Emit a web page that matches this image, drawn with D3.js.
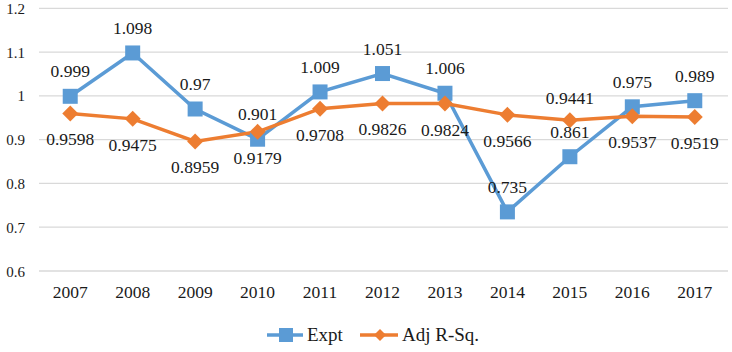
<!DOCTYPE html>
<html>
<head>
<meta charset="utf-8">
<script src="https://cdn.jsdelivr.net/npm/d3@7"></script>
</head>
<body style="margin:0">
<div id="chart"></div>
<script>
// Data
const years = ['2007', '2008', '2009', '2010', '2011', '2012', '2013', '2014', '2015', '2016', '2017']
const expt = [0.999, 1.098, 0.97, 0.901, 1.009, 1.051, 1.006, 0.735, 0.861, 0.975, 0.989]
const adjR = [0.9598, 0.9475, 0.8959, 0.9179, 0.9708, 0.9826, 0.9824, 0.9566, 0.9441, 0.9537, 0.9519]
const exptLabels = ['0.999', '1.098', '0.97', '0.901', '1.009', '1.051', '1.006', '0.735', '0.861', '0.975', '0.989']
const adjLabels = ['0.9598', '0.9475', '0.8959', '0.9179', '0.9708', '0.9826', '0.9824', '0.9566', '0.9441', '0.9537', '0.9519']
const adjAbove = [false, false, false, false, false, false, false, false, true, false, false]
const yTicks = [0.6, 0.7, 0.8, 0.9, 1, 1.1, 1.2]
const seriesNames = ['Expt', 'Adj R-Sq.']

const width = 732, height = 352
const plot = { left: 39, right: 726, top: 8.3, bottom: 271 }
const textColor = '#1a1a1a'

// serif text: drawn at 24px then scaled down to the wanted size
const baseSize = 24
const serif = (sel, size, tx, ty) => sel
  .style('font-family', '"Liberation Serif"')
  .attr('font-size', baseSize)
  .attr('fill', textColor)
  .attr('x', 0)
  .attr('y', 0)
  .attr('dy', 0)
  .attr('transform', (d, i) => `translate(${tx(d, i)},${ty(d, i)}) scale(${size / baseSize})`)

const svg = d3.select('#chart').append('svg')
  .attr('width', width)
  .attr('height', height)

const xScale = d3.scaleBand()
  .domain(years)
  .range([plot.left, plot.right])

const yScale = d3.scaleLinear()
  .domain([0.6, 1.2])
  .range([plot.bottom, plot.top])

// gridlines
svg.append('g')
  .selectAll('line')
  .data(yTicks)
  .join('line')
  .attr('x1', plot.left)
  .attr('x2', plot.right + 2)
  .attr('y1', d => yScale(d))
  .attr('y2', d => yScale(d))
  .attr('stroke', '#d9d9d9')
  .attr('stroke-width', 1.3)

// y axis labels
const yAxis = d3.axisLeft(yScale)
  .tickValues(yTicks)
  .tickSize(0)
  .tickFormat(d => String(+d.toFixed(1)))
const yAxisGroup = svg.append('g')
  .attr('transform', `translate(${plot.left},0)`)
  .call(yAxis)
yAxisGroup.attr('font-family', null).attr('font-size', null)
yAxisGroup.select('.domain').remove()
serif(yAxisGroup.selectAll('text'), 15, () => -14, () => 5)

// x axis labels
const xAxis = d3.axisBottom(xScale).tickSize(0)
const xAxisGroup = svg.append('g')
  .attr('transform', `translate(0,${plot.bottom})`)
  .call(xAxis)
xAxisGroup.attr('font-family', null).attr('font-size', null)
xAxisGroup.select('.domain').remove()
serif(xAxisGroup.selectAll('text'), 17.5, () => 0, () => 27)

const cx = (d, i) => xScale(years[i]) + xScale.bandwidth() / 2

const blue = '#5b9bd5', orange = '#ed7d31'

const lineGen = d3.line()
  .x((d, i) => cx(d, i))
  .y(d => yScale(d))

// Expt line
svg.append('path')
  .datum(expt)
  .attr('d', lineGen)
  .attr('fill', 'none')
  .attr('stroke', blue)
  .attr('stroke-width', 3.5)

// Adj R-Sq. line
svg.append('path')
  .datum(adjR)
  .attr('d', lineGen)
  .attr('fill', 'none')
  .attr('stroke', orange)
  .attr('stroke-width', 3.5)

// markers
const sq = 15
svg.append('g')
  .selectAll('rect')
  .data(expt)
  .join('rect')
  .attr('x', (d, i) => cx(d, i) - sq / 2)
  .attr('y', d => yScale(d) - sq / 2)
  .attr('width', sq)
  .attr('height', sq)
  .attr('fill', blue)

const dm = 8
svg.append('g')
  .selectAll('path')
  .data(adjR)
  .join('path')
  .attr('d', (d, i) => {
    const x = cx(d, i), y = yScale(d)
    return `M${x},${y - dm}L${x + dm},${y}L${x},${y + dm}L${x - dm},${y}Z`
  })
  .attr('fill', orange)

// data labels
serif(svg.append('g')
  .selectAll('text')
  .data(expt)
  .join('text')
  .attr('text-anchor', 'middle')
  .text((d, i) => exptLabels[i]), 17.5, cx, d => yScale(d) - 19)

serif(svg.append('g')
  .selectAll('text')
  .data(adjR)
  .join('text')
  .attr('text-anchor', 'middle')
  .text((d, i) => adjLabels[i]), 17.5, cx, (d, i) => adjAbove[i] ? yScale(d) - 16 : yScale(d) + 32)

// legend
const legend = svg.append('g').attr('transform', 'translate(0,335)')
legend.append('line')
  .attr('x1', 267).attr('x2', 303)
  .attr('stroke', blue).attr('stroke-width', 3.5)
legend.append('rect')
  .attr('x', 286 - 7).attr('y', -7)
  .attr('width', 14).attr('height', 14)
  .attr('fill', blue)
legend.append('line')
  .attr('x1', 360).attr('x2', 398)
  .attr('stroke', orange).attr('stroke-width', 3.5)
legend.append('path')
  .attr('d', 'M380,-6L386,0L380,6L374,0Z')
  .attr('fill', orange)
serif(legend.selectAll('text')
  .data(seriesNames)
  .join('text')
  .text(d => d), 19, (d, i) => i === 0 ? 307 : 402, () => 5.5)
</script>
</body>
</html>
